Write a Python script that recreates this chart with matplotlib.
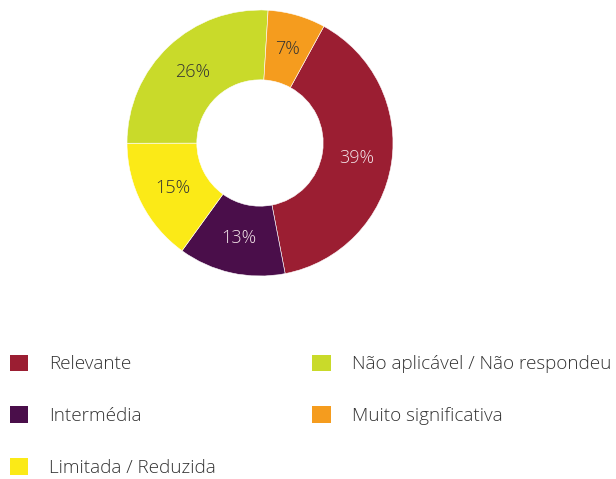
import matplotlib
matplotlib.use("Agg")
import matplotlib.pyplot as plt

# -------------------------------
# Data
# -------------------------------
categories = ["Relevante", "Intermédia", "Limitada / Reduzida",
              "Não aplicável / Não respondeu", "Muito significativa"]
values = [39, 13, 15, 26, 7]
colors = ["#9B1E32", "#4A0E4A", "#FBEA17", "#C9DA2A", "#F59C1E"]
label_colors = ["#F3E4E8", "#F3E4E8", "#333333", "#333333", "#333333"]

plt.rcParams['font.family'] = ['Open Sans', 'DejaVu Sans']

W, H = 616, 479
fig = plt.figure(figsize=(W / 100, H / 100), dpi=100)

# donut centre (260, 143) px from top, outer radius 133 px
cx, cy, r = 260, 143, 133
ax = fig.add_axes([(cx - r) / W, (H - cy - r) / H, 2 * r / W, 2 * r / H])

wedges, texts = ax.pie(values, colors=colors, startangle=61.3, counterclock=False,
                       labels=[f"{v}%" for v in values], labeldistance=0.735,
                       wedgeprops=dict(width=0.525, edgecolor="white", linewidth=0.4),
                       textprops=dict(fontsize=13, fontweight="light"))
for t, c in zip(texts, label_colors):
    t.set_color(c)
    t.set_ha("center")
    t.set_va("center")
ax.set_xlim(-1, 1)
ax.set_ylim(-1, 1)
ax.set_aspect("equal")

# legend, two columns filled column-first
leg = fig.legend(wedges, categories, ncol=2, loc="upper left",
                 bbox_to_anchor=(2 / W, 1 - 347 / H), frameon=False,
                 fontsize=13.6, handlelength=1.0, handleheight=1.0,
                 handletextpad=1.1, labelspacing=1.74, columnspacing=5.1,
                 borderaxespad=0)
for txt in leg.get_texts():
    txt.set_color("#333333")
    txt.set_fontweight("light")
for h in leg.legend_handles:
    h.set_edgecolor("none")

fig.savefig("out.png", dpi=100)
